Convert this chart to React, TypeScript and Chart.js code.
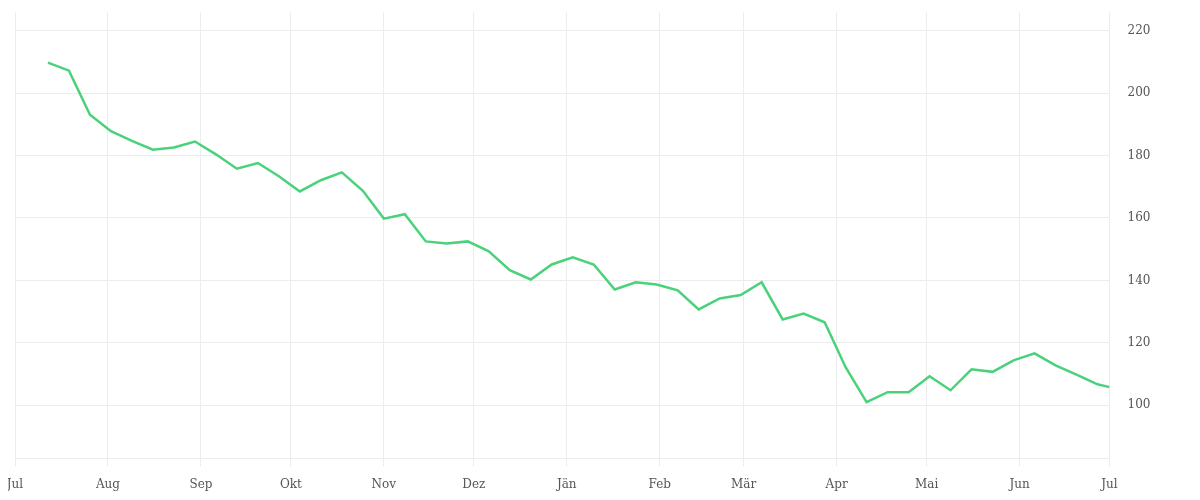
import { useEffect, useRef } from "react";
import { Chart, registerables } from "chart.js";
import type { ChartConfiguration } from "chart.js";

Chart.register(...registerables);

// weekly readings (last one is the current day)
const dates = [
  "2024-07-12", "2024-07-19", "2024-07-26", "2024-08-02", "2024-08-09",
  "2024-08-16", "2024-08-23", "2024-08-30", "2024-09-06", "2024-09-13",
  "2024-09-20", "2024-09-27", "2024-10-04", "2024-10-11", "2024-10-18",
  "2024-10-25", "2024-11-01", "2024-11-08", "2024-11-15", "2024-11-22",
  "2024-11-29", "2024-12-06", "2024-12-13", "2024-12-20", "2024-12-27",
  "2025-01-03", "2025-01-10", "2025-01-17", "2025-01-24", "2025-01-31",
  "2025-02-07", "2025-02-14", "2025-02-21", "2025-02-28", "2025-03-07",
  "2025-03-14", "2025-03-21", "2025-03-28", "2025-04-04", "2025-04-11",
  "2025-04-18", "2025-04-25", "2025-05-02", "2025-05-09", "2025-05-16",
  "2025-05-23", "2025-05-30", "2025-06-06", "2025-06-13", "2025-06-20",
  "2025-06-27", "2025-07-01",
];

const values = [
  209.8, 207.2, 193.1, 187.8, 184.7, 181.9, 182.6, 184.5, 180.4, 175.8,
  177.6, 173.4, 168.5, 172.1, 174.6, 168.7, 159.8, 161.2, 152.5, 151.8,
  152.5, 149.3, 143.3, 140.3, 145.1, 147.4, 145.1, 137.1, 139.4, 138.7,
  136.8, 130.7, 134.2, 135.3, 139.4, 127.5, 129.4, 126.6, 112.2, 101.0,
  104.2, 104.2, 109.3, 104.8, 111.5, 110.7, 114.4, 116.6, 112.8, 109.8,
  106.7, 105.8,
];

const monthStarts = [
  "2024-07-01", "2024-08-01", "2024-09-01", "2024-10-01", "2024-11-01",
  "2024-12-01", "2025-01-01", "2025-02-01", "2025-03-01", "2025-04-01",
  "2025-05-01", "2025-06-01", "2025-07-01",
];
const monthLabels = [
  "Jul", "Aug", "Sep", "Okt", "Nov", "Dez", "Jän", "Feb", "Mär", "Apr",
  "Mai", "Jun", "Jul",
];

const yTicks = [100, 120, 140, 160, 180, 200, 220];

const DAY = 24 * 60 * 60 * 1000;
const origin = Date.parse(monthStarts[0]);
const toDay = (d: string) => (Date.parse(d) - origin) / DAY;
const monthDays = monthStarts.map(toDay);

const GRID = "#ececec";
const FONT = { family: "DejaVu Serif", size: 12 };

export default function App() {
  const canvasRef = useRef<HTMLCanvasElement>(null);
  const chartRef = useRef<Chart | null>(null);

  useEffect(() => {
    if (!canvasRef.current) return;
    if (chartRef.current) chartRef.current.destroy();

    const config: ChartConfiguration<"line"> = {
      type: "line",
      data: {
        datasets: [
          {
            data: dates.map((d, i) => ({ x: toDay(d), y: values[i] })),
            borderColor: "#4ad27a",
            borderWidth: 2.5,
            pointRadius: 0,
            tension: 0,
            fill: false,
          },
        ],
      },
      options: {
        animation: false,
        responsive: true,
        maintainAspectRatio: false,
        plugins: {
          legend: { display: false },
          tooltip: { enabled: false },
        },
        scales: {
          x: {
            type: "linear",
            min: 0,
            max: toDay(dates[dates.length - 1]),
            afterBuildTicks: (scale) => {
              scale.ticks = monthDays.map((v) => ({ value: v }));
            },
            afterFit: (scale) => {
              scale.height = 33.7;
              scale.paddingLeft = 7;
              scale.paddingRight = 0;
            },
            ticks: {
              autoSkip: false,
              maxRotation: 0,
              padding: 11,
              color: "#555",
              font: FONT,
              callback: (v) => monthLabels[monthDays.indexOf(Number(v))] ?? "",
            },
            grid: { color: GRID, tickLength: 8 },
            border: { color: GRID },
          },
          y: {
            position: "right",
            min: 83,
            max: 226,
            afterBuildTicks: (scale) => {
              scale.ticks = yTicks.map((v) => ({ value: v }));
            },
            afterFit: (scale) => {
              scale.width = 82.5;
              scale.paddingTop = 4;
              scale.paddingBottom = 0;
            },
            ticks: {
              padding: 18,
              color: "#555",
              font: FONT,
            },
            grid: { color: GRID, drawTicks: false },
            border: { color: GRID },
          },
        },
      },
    };

    chartRef.current = new Chart(canvasRef.current, config);
    return () => {
      chartRef.current?.destroy();
      chartRef.current = null;
    };
  }, []);

  return (
    <div style={{ position: "relative", height: 484 }}>
      <canvas ref={canvasRef}></canvas>
    </div>
  );
}
